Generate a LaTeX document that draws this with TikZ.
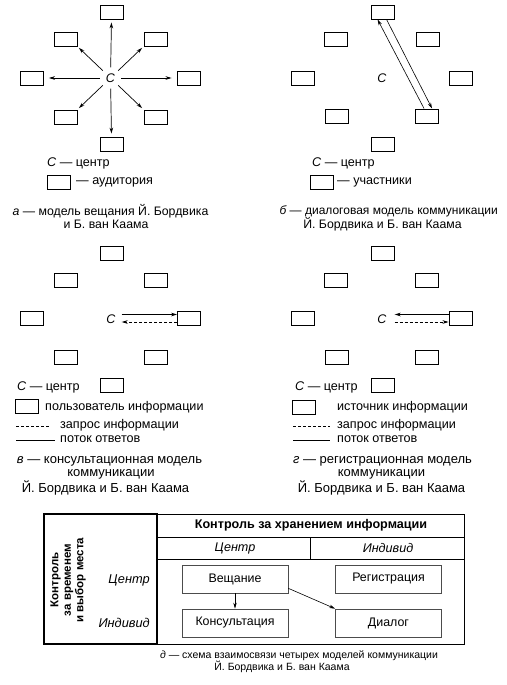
\documentclass[tikz,border=0pt]{standalone}
\usepackage{fontspec}
\setmainfont{Liberation Sans}
\usetikzlibrary{arrows.meta,calc}
\begin{document}
\begin{tikzpicture}[x=1pt,y=-1pt,
  pbox/.style={draw,line width=0.9pt,minimum width=23pt,minimum height=14pt,inner sep=0pt},
  cnode/.style={font=\fontsize{12.5}{12}\selectfont\itshape,inner sep=0pt},
  cring/.style={circle,minimum size=21pt,inner sep=0pt},
  arr/.style={line width=0.7pt,-{Stealth[length=6pt,width=3.6pt]}},
  thinarr/.style={line width=0.6pt,-{Stealth[length=6pt,width=3.4pt]}},
  dsh/.style={dash pattern=on 3pt off 2pt},
  lbl/.style={font=\fontsize{12.6}{13}\selectfont,inner sep=0pt,anchor=west},
  captxt/.style={font=\fontsize{12.3}{13}\selectfont,inner sep=0pt},
  captxtc/.style={font=\fontsize{13}{13}\selectfont,inner sep=0pt},
  captxte/.style={font=\fontsize{10.5}{11}\selectfont,inner sep=0pt},
  tbox/.style={draw=black!70,line width=0.6pt,minimum width=106pt,minimum height=28pt,inner sep=0pt,font=\fontsize{12.4}{13}\selectfont},
  ttxt/.style={inner sep=0pt,font=\fontsize{12.6}{13}\selectfont},
  tline/.style={line width=0.8pt}
]
\useasboundingbox (0,0) rectangle (506,685);

% ---------- a ----------
\node[pbox] (a1) at (111.5,12) {};
\node[pbox] (a2) at (155.5,39) {};
\node[pbox] (a3) at (188.5,78) {};
\node[pbox] (a4) at (155.5,117) {};
\node[pbox] (a5) at (111.5,144) {};
\node[pbox] (a6) at (65.5,117) {};
\node[pbox] (a7) at (32,78) {};
\node[pbox] (a8) at (65.5,39) {};
\node[cnode] (ac) at (110.5,78) {С};
\node[cring] (acr) at (110.5,78) {};
\draw[arr,shorten >=3pt] (acr) -- (a1.south);
\draw[arr,shorten >=2pt] (acr) -- (a2.south west);
\draw[arr,shorten >=5pt] (acr) -- (a3.west);
\draw[arr,shorten >=2pt] (acr) -- (a4.north west);
\draw[arr,shorten >=3pt] (acr) -- (a5.north);
\draw[arr,shorten >=2pt] (acr) -- (a6.north east);
\draw[arr,shorten >=5pt] (acr) -- (a7.east);
\draw[arr,shorten >=2pt] (acr) -- (a8.south east);
\node[lbl] (alc) at (47,163) {\itshape С\upshape{} — центр};
\node[pbox] (alb) at (58.5,182.5) {};
\node[lbl] (alt) at (76,182.5) {— аудитория};
\node[captxt] (acap1) at (110.5,211) {\itshape а\upshape{} — модель вещания Й. Бордвика};
\node[captxt] (acap2) at (106,224) {и Б. ван Каама};

% ---------- b ----------
\node[pbox] (b1) at (382.5,12) {};
\node[pbox] (b2) at (427.5,39) {};
\node[pbox] (b3) at (460.5,78) {};
\node[pbox] (b4) at (427,116) {};
\node[pbox] (b5) at (382.5,144) {};
\node[pbox] (b6) at (337,116) {};
\node[pbox] (b7) at (303,78) {};
\node[pbox] (b8) at (335.5,39) {};
\node[cnode] (bc) at (382,78) {С};
\draw[thinarr] ($(b4.north west)+(9,0)$) -- ($(b1.south west)+(7,0)$);
\draw[thinarr] ($(b1.south west)+(16,0)$) -- ($(b4.north west)+(17,0)$);
\node[lbl] (blc) at (312,163) {\itshape С\upshape{} — центр};
\node[pbox] (blb) at (322,182.5) {};
\node[lbl] (blt) at (337,182.5) {— участники};
\node[captxt,font=\fontsize{12}{13}\selectfont,anchor=east] (bcap1) at (498,211) {\itshape б\upshape{} — диалоговая модель коммуникации};
\node[captxt] (bcap2) at (382.5,224) {Й. Бордвика и Б. ван Каама};

% ---------- c ----------
\node[pbox] (c1) at (111.5,253) {};
\node[pbox] (c2) at (155.5,280) {};
\node[pbox] (c3) at (189,318.5) {};
\node[pbox] (c4) at (155.5,357) {};
\node[pbox] (c5) at (111.5,385) {};
\node[pbox] (c6) at (65.5,357) {};
\node[pbox] (c7) at (32,318.5) {};
\node[pbox] (c8) at (65.5,280) {};
\node[cnode] (cc) at (111,319) {С};
\draw[arr] ($(cc.east)+(6,-4.5)$) -- ($(c3.west)+(0,-4)$);
\draw[arr,dsh] ($(c3.west)+(0,3.5)$) -- ($(cc.east)+(6,3)$);
\node[lbl] (clc) at (17,387) {\itshape С\upshape{} — центр};
\node[pbox] (clb) at (26.5,406.5) {};
\node[lbl] (clt) at (45,407) {пользователь информации};
\coordinate (cd1) at (16,426);
\coordinate (cd2) at (50,426);
\draw[line width=0.6pt,dsh] (cd1) -- (cd2);
\node[lbl] (cdt) at (60,425) {запрос информации};
\coordinate (cs1) at (16,440);
\coordinate (cs2) at (55,440);
\draw[line width=0.6pt] (cs1) -- (cs2);
\node[lbl] (cst) at (60,439) {поток ответов};
\node[captxtc] (ccap1) at (109.5,461) {\itshape в\upshape{} — консультационная модель};
\node[captxtc] (ccap2) at (111,474.5) {коммуникации};
\node[captxtc] (ccap3) at (105.5,488) {Й. Бордвика и Б. ван Каама};

% ---------- d ----------
\node[pbox] (d1) at (382.5,253) {};
\node[pbox] (d2) at (427,280) {};
\node[pbox] (d3) at (460.5,318.5) {};
\node[pbox] (d4) at (427,357) {};
\node[pbox] (d5) at (382.5,385) {};
\node[pbox] (d6) at (337,357) {};
\node[pbox] (d7) at (303,318.5) {};
\node[pbox] (d8) at (335.5,280) {};
\node[cnode] (dc) at (382,319) {С};
\draw[arr] ($(d3.west)+(0,-4)$) -- ($(dc.east)+(8,-4.5)$);
\draw[arr,dsh] ($(dc.east)+(8,3)$) -- ($(d3.west)+(0,3.5)$);
\node[lbl] (dlc) at (295,387) {\itshape С\upshape{} — центр};
\node[pbox] (dlb) at (304,407.5) {};
\node[lbl] (dlt) at (337,407) {источник информации};
\coordinate (dd1) at (293,426);
\coordinate (dd2) at (330,426);
\draw[line width=0.6pt,dsh] (dd1) -- (dd2);
\node[lbl] (ddt) at (337,425) {запрос информации};
\coordinate (ds1) at (293,440);
\coordinate (ds2) at (330,440);
\draw[line width=0.6pt] (ds1) -- (ds2);
\node[lbl] (dst) at (337,439) {поток ответов};
\node[captxtc] (dcap1) at (382.5,461) {\itshape г\upshape{} — регистрационная модель};
\node[captxtc] (dcap2) at (381.5,474.5) {коммуникации};
\node[captxtc] (dcap3) at (381.5,488) {Й. Бордвика и Б. ван Каама};

% ---------- table ----------
\draw[tline] (44,514) rectangle (464,644);
\draw[line width=1.3pt] (44,514) rectangle (157,644);
\draw[tline] (157,537) -- (464,537);
\draw[tline] (157,559) -- (464,559);
\draw[tline] (310.5,537) -- (310.5,559);
\node[ttxt,font=\fontsize{12.6}{13}\selectfont\bfseries] (th) at (311,525.5) {Контроль за хранением информации};
\node[ttxt,font=\fontsize{12.6}{13}\selectfont\itshape] (tc1) at (235,548) {Центр};
\node[ttxt,font=\fontsize{12.6}{13}\selectfont\itshape] (tc2) at (388,548) {Индивид};
\node[ttxt,font=\fontsize{11.5}{12.5}\selectfont\bfseries,rotate=90,align=center] (tl) at (68,580) {Контроль\\за временем\\и выбор места};
\node[ttxt,font=\fontsize{12.8}{13}\selectfont\itshape,anchor=east] (tr1) at (150,580) {Центр};
\node[ttxt,font=\fontsize{12.8}{13}\selectfont\itshape,anchor=east] (tr2) at (150,623) {Индивид};
\node[tbox] (tv) at (235,579) {Вещание};
\node[tbox] (treg) at (388.5,579) {Регистрация};
\node[tbox] (tk) at (235,623) {Консультация};
\node[tbox] (tdi) at (388.5,623) {Диалог};
\draw[thinarr] (tv.south) -- (tk.north);
\draw[thinarr] ($(tv.south east)+(0,-5)$) -- (tdi.north west);
\node[captxte] (ecap1) at (299,656) {\itshape д\upshape{} — схема взаимосвязи четырех моделей коммуникации};
\node[captxte] (ecap2) at (282,667) {Й. Бордвика и Б. ван Каама};
\end{tikzpicture}
\end{document}
